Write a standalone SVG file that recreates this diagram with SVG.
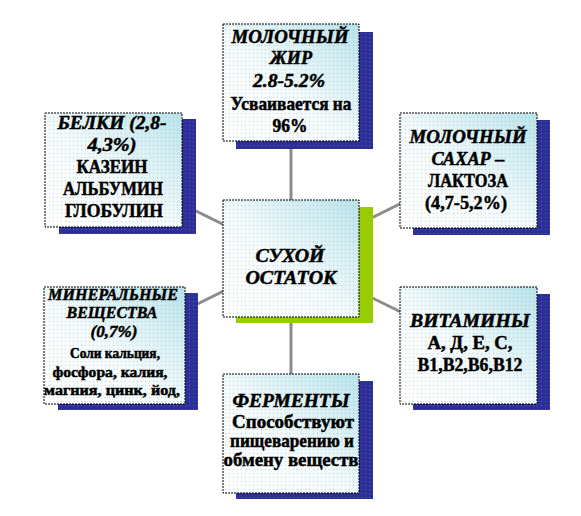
<svg xmlns="http://www.w3.org/2000/svg" width="581" height="516" viewBox="0 0 581 516" font-family="'Liberation Serif', 'DejaVu Serif', serif">
<defs>
<linearGradient id="g" x1="0" y1="1" x2="1" y2="0">
<stop offset="0" stop-color="#ffffff"/>
<stop offset="0.45" stop-color="#f4fbfc"/>
<stop offset="1" stop-color="#b8e4ec"/>
</linearGradient>
<pattern id="dots" width="4" height="4" patternUnits="userSpaceOnUse">
<rect x="1" y="1" width="1" height="1" fill="#b0b0b0"/>
</pattern>
<pattern id="sdots" width="4" height="4" patternUnits="userSpaceOnUse">
<rect x="1" y="1" width="1" height="1" fill="#8a8ad0"/>
</pattern>
</defs>
<style>
.sh{fill:#2e2e98}
.shg{fill:#99cc00}
.bx{fill:url(#g);stroke:#000;stroke-width:1;stroke-dasharray:2 1}
.dt{fill:url(#dots);opacity:0.6}
.sd{fill:url(#sdots);opacity:0.5}
text{font-weight:bold;fill:#000;stroke:#000;stroke-width:0.5;text-anchor:middle}
.i{font-style:italic}
.f19{font-size:19px}
.f17{font-size:17px}
.f15{font-size:15px}
.c{stroke:#8c8c8c;stroke-width:3;fill:none}
</style>
<g id="connectors">
<line class="c" x1="291" y1="258" x2="291" y2="82"/>
<line class="c" x1="291" y1="258" x2="291" y2="434"/>
<line class="c" x1="291" y1="258" x2="113" y2="170"/>
<line class="c" x1="291" y1="258" x2="468" y2="170"/>
<line class="c" x1="291" y1="258" x2="114" y2="345"/>
<line class="c" x1="291" y1="258" x2="468" y2="345"/>
</g>
<g id="fat">
<rect class="sh" x="236" y="32" width="137" height="117"/>
<rect class="sd" x="236" y="32" width="137" height="117"/>
<rect class="bx" x="223" y="24" width="136" height="117"/>
<rect class="dt" x="223" y="24" width="136" height="117"/>
<text class="f19 i" x="290" y="43" textLength="117" lengthAdjust="spacingAndGlyphs">МОЛОЧНЫЙ</text>
<text class="f19 i" x="291" y="64" textLength="42" lengthAdjust="spacingAndGlyphs">ЖИР</text>
<text class="f19 i" x="289" y="87" textLength="72" lengthAdjust="spacingAndGlyphs">2.8-5.2%</text>
<text class="f19" x="291" y="110" textLength="121" lengthAdjust="spacingAndGlyphs">Усваивается на</text>
<text class="f19" x="290" y="132" textLength="35" lengthAdjust="spacingAndGlyphs">96%</text>
</g>
<g id="proteins">
<rect class="sh" x="59" y="119" width="137" height="115"/>
<rect class="sd" x="59" y="119" width="137" height="115"/>
<rect class="bx" x="45" y="113" width="137" height="114"/>
<rect class="dt" x="45" y="113" width="137" height="114"/>
<text class="f19 i" x="112" y="129" textLength="109" lengthAdjust="spacingAndGlyphs">БЕЛКИ (2,8-</text>
<text class="f19 i" x="112" y="151" textLength="49" lengthAdjust="spacingAndGlyphs">4,3%)</text>
<text class="f19" x="112" y="173" textLength="71" lengthAdjust="spacingAndGlyphs">КАЗЕИН</text>
<text class="f19" x="113" y="195" textLength="100" lengthAdjust="spacingAndGlyphs">АЛЬБУМИН</text>
<text class="f19" x="114" y="217" textLength="98" lengthAdjust="spacingAndGlyphs">ГЛОБУЛИН</text>
</g>
<g id="sugar">
<rect class="sh" x="413" y="120" width="137" height="115"/>
<rect class="sd" x="413" y="120" width="137" height="115"/>
<rect class="bx" x="400" y="113" width="137" height="115"/>
<rect class="dt" x="400" y="113" width="137" height="115"/>
<text class="f19 i" x="468" y="143" textLength="117" lengthAdjust="spacingAndGlyphs">МОЛОЧНЫЙ</text>
<text class="f19 i" x="468" y="165" textLength="73" lengthAdjust="spacingAndGlyphs">САХАР –</text>
<text class="f19" x="468" y="187" textLength="80" lengthAdjust="spacingAndGlyphs">ЛАКТОЗА</text>
<text class="f19" x="466" y="209" textLength="82" lengthAdjust="spacingAndGlyphs">(4,7-5,2%)</text>
</g>
<g id="center">
<rect class="shg" x="236" y="207" width="137" height="116"/>
<rect class="bx" x="223" y="200" width="136" height="117"/>
<rect class="dt" x="223" y="200" width="136" height="117"/>
<text class="f19 i" x="290" y="262" textLength="69" lengthAdjust="spacingAndGlyphs">СУХОЙ</text>
<text class="f19 i" x="291" y="284" textLength="91" lengthAdjust="spacingAndGlyphs">ОСТАТОК</text>
</g>
<g id="minerals">
<rect class="sh" x="58" y="293" width="140" height="117"/>
<rect class="sd" x="58" y="293" width="140" height="117"/>
<rect class="bx" x="44" y="287" width="141" height="117"/>
<rect class="dt" x="44" y="287" width="141" height="117"/>
<text class="f17 i" x="113" y="300" textLength="130" lengthAdjust="spacingAndGlyphs">МИНЕРАЛЬНЫЕ</text>
<text class="f17 i" x="112" y="318" textLength="91" lengthAdjust="spacingAndGlyphs">ВЕЩЕСТВА</text>
<text class="f17 i" x="114" y="337" textLength="47" lengthAdjust="spacingAndGlyphs">(0,7%)</text>
<text class="f15" x="115" y="358" textLength="90" lengthAdjust="spacingAndGlyphs">Соли кальция,</text>
<text class="f15" x="110" y="377" textLength="115" lengthAdjust="spacingAndGlyphs">фосфора,  калия,</text>
<text class="f15" x="112" y="395" textLength="136" lengthAdjust="spacingAndGlyphs">магния, цинк, йод,</text>
</g>
<g id="vitamins">
<rect class="sh" x="413" y="294" width="137" height="116"/>
<rect class="sd" x="413" y="294" width="137" height="116"/>
<rect class="bx" x="400" y="287" width="137" height="117"/>
<rect class="dt" x="400" y="287" width="137" height="117"/>
<text class="f19 i" x="470" y="327" textLength="120" lengthAdjust="spacingAndGlyphs">ВИТАМИНЫ</text>
<text class="f19" x="470" y="349" textLength="85" lengthAdjust="spacingAndGlyphs">А, Д, Е, С,</text>
<text class="f19" x="470" y="371" textLength="105" lengthAdjust="spacingAndGlyphs">В1,В2,В6,В12</text>
</g>
<g id="enzymes">
<rect class="sh" x="236" y="381" width="137" height="118"/>
<rect class="sd" x="236" y="381" width="137" height="118"/>
<rect class="bx" x="223" y="374" width="136" height="119"/>
<rect class="dt" x="223" y="374" width="136" height="119"/>
<text class="f19 i" x="291" y="407" textLength="117" lengthAdjust="spacingAndGlyphs">ФЕРМЕНТЫ</text>
<text class="f19" x="293" y="428" textLength="122" lengthAdjust="spacingAndGlyphs">Способствуют</text>
<text class="f19" x="292" y="447" textLength="124" lengthAdjust="spacingAndGlyphs">пищеварению и</text>
<text class="f19" x="291" y="466" textLength="135" lengthAdjust="spacingAndGlyphs">обмену веществ</text>
</g>
</svg>
